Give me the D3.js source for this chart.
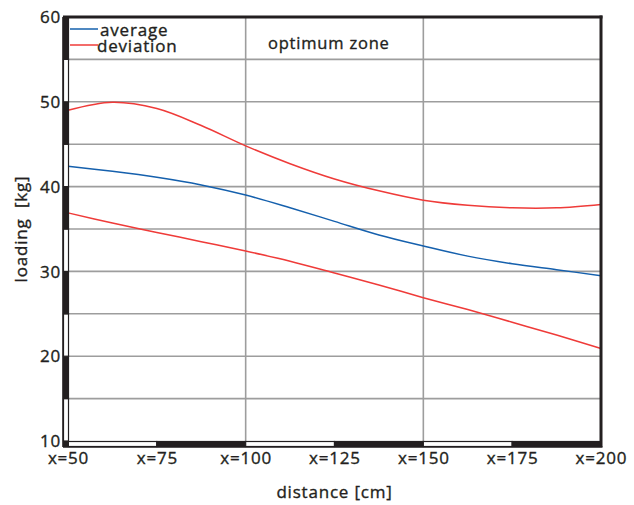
<!DOCTYPE html>
<html>
<head>
<meta charset="utf-8">
<script src="https://cdn.jsdelivr.net/npm/d3@7/dist/d3.min.js"></script>
<style>
  html, body { margin: 0; padding: 0; background: #fff; }
  svg { display: block; font-family: "Open Sans", sans-serif; }
  text { stroke: #231f20; stroke-width: 0.35px; }
</style>
</head>
<body>
<svg id="chart" width="634" height="505"></svg>
<script>
// ---- data ----
const distances = [50, 62.5, 75, 87.5, 100, 112.5, 125, 137.5, 150, 162.5, 175, 187.5, 200];
const average   = [42.4, 41.8, 41.1, 40.2, 39.0, 37.5, 35.9, 34.3, 33.0, 31.8, 30.9, 30.2, 29.5];
const devUpper  = [49.0, 49.95, 49.2, 47.2, 44.8, 42.7, 40.9, 39.5, 38.4, 37.8, 37.5, 37.5, 37.9];
const devLower  = [36.9, 35.7, 34.6, 33.5, 32.4, 31.2, 29.8, 28.4, 26.9, 25.5, 24.0, 22.5, 20.9];
const xTicks = [50, 75, 100, 125, 150, 175, 200];
const xTickLabels = ["x=50", "x=75", "x=100", "x=125", "x=150", "x=175", "x=200"];
const yTicks = [10, 20, 30, 40, 50, 60];
const yGrid = [15, 20, 25, 30, 35, 40, 45, 50, 55];
const xGrid = [100, 150];
const legendLabels = ["average", "deviation"];
const zoneLabel = "optimum zone";
const xTitle = "distance [cm]";
const yTitle = "loading  [kg]";

// ---- layout ----
const svg = d3.select("#chart");
const pL = 68, pR = 601, pT = 17, pB = 441;
const x = d3.scaleLinear().domain([50, 200]).range([pL, pR]);
const y = d3.scaleLinear().domain([10, 60]).range([pB, pT]);
const ink = "#231f20";
const blue = "#1560ad";
const red = "#ef3b39";
const gridC = "#9d9d9d";
const ls = "0.8px";

// grid
svg.append("g").selectAll("line").data(yGrid).join("line")
  .attr("x1", pL).attr("x2", pR)
  .attr("y1", d => y(d)).attr("y2", d => y(d))
  .attr("stroke", gridC).attr("stroke-width", 1.6);
svg.append("g").selectAll("line").data(xGrid).join("line")
  .attr("x1", d => x(d)).attr("x2", d => x(d))
  .attr("y1", pT).attr("y2", pB)
  .attr("stroke", gridC).attr("stroke-width", 1.6);

// lines
const lineGen = vals => d3.line()
  .x((d, i) => x(distances[i]))
  .y(d => y(d))
  .curve(d3.curveCatmullRom.alpha(0.5))(vals);
[[devUpper, red], [devLower, red], [average, blue]].forEach(([vals, c]) => {
  svg.append("path").attr("d", lineGen(vals))
    .attr("fill", "none").attr("stroke", c).attr("stroke-width", 1.5);
});

// frame: top and right
svg.append("line").attr("x1", pL - 5).attr("x2", pR + 1.5)
  .attr("y1", pT).attr("y2", pT).attr("stroke", ink).attr("stroke-width", 3);
svg.append("line").attr("x1", pR).attr("x2", pR)
  .attr("y1", pT - 1.5).attr("y2", pB + 6).attr("stroke", ink).attr("stroke-width", 3);

// left axis bar segments
const ySegs = d3.range(10, 60, 5);
svg.append("g").selectAll("rect").data(ySegs).join("rect")
  .attr("x", pL - 4.5).attr("width", 5)
  .attr("y", d => y(d + 5)).attr("height", d => y(d) - y(d + 5))
  .attr("fill", d => ((d / 5) % 2 === 1) ? ink : "#fff")
  .attr("stroke", ink).attr("stroke-width", 1.2);
// bottom axis bar segments
const xSegs = d3.range(50, 200, 25);
svg.append("g").selectAll("rect").data(xSegs).join("rect")
  .attr("y", pB + 0.5).attr("height", 5)
  .attr("x", d => x(d)).attr("width", d => x(d + 25) - x(d))
  .attr("fill", (d, i) => (i % 2 === 1) ? ink : "#fff")
  .attr("stroke", ink).attr("stroke-width", 1.2);
svg.append("line").attr("x1", pL - 5).attr("x2", pR + 1.5)
  .attr("y1", pB + 6).attr("y2", pB + 6).attr("stroke", ink).attr("stroke-width", 1.6);
svg.append("line").attr("x1", pL - 5).attr("x2", pL - 5)
  .attr("y1", pT).attr("y2", pB + 6).attr("stroke", ink).attr("stroke-width", 1.6);
svg.append("rect").attr("x", pL - 5).attr("y", pB).attr("width", 6).attr("height", 6).attr("fill", ink);

// y axis labels
const yAxis = svg.append("g").attr("transform", `translate(${pL - 6},0)`)
  .call(d3.axisLeft(y).tickValues(yTicks).tickSize(0).tickPadding(1).tickFormat(d3.format("d")));
yAxis.select(".domain").remove();
yAxis.selectAll("text").attr("font-size", 17).attr("fill", ink)
  .attr("font-family", "Open Sans, sans-serif").attr("dy", "0.34em")
  .style("letter-spacing", ls);

// x axis labels
const xAxis = svg.append("g").attr("transform", `translate(0,${pB + 11})`)
  .call(d3.axisBottom(x).tickValues(xTicks).tickSize(0).tickPadding(0)
    .tickFormat((d, i) => xTickLabels[i]));
xAxis.select(".domain").remove();
xAxis.selectAll("text").attr("font-size", 17).attr("fill", ink)
  .attr("font-family", "Open Sans, sans-serif").attr("dy", "0.71em")
  .style("letter-spacing", ls);

// titles
svg.append("text").attr("x", (pL + pR) / 2).attr("y", 491)
  .attr("text-anchor", "middle").attr("dominant-baseline", "central")
  .attr("font-size", 17).attr("fill", ink).style("letter-spacing", ls).text(xTitle);
svg.append("text").attr("transform", `translate(20,${(pT + pB) / 2}) rotate(-90)`)
  .attr("text-anchor", "middle").attr("dominant-baseline", "central")
  .attr("font-size", 17).attr("fill", ink).style("white-space", "pre")
  .style("letter-spacing", ls).text(yTitle);

// legend
const legendColors = [blue, red];
const leg = svg.append("g");
legendLabels.forEach((lab, i) => {
  const ly = 29 + i * 16;
  leg.append("line").attr("x1", 70).attr("x2", 98).attr("y1", ly).attr("y2", ly)
    .attr("stroke", legendColors[i]).attr("stroke-width", 1.5);
  leg.append("text").attr("x", i === 0 ? 100 : 97).attr("y", ly)
    .attr("dominant-baseline", "central").attr("font-size", 17).attr("fill", ink)
    .style("letter-spacing", ls).text(lab);
});

// zone label
svg.append("text").attr("x", 268).attr("y", 42)
  .attr("dominant-baseline", "central").attr("font-size", 16.5).attr("fill", ink)
  .style("letter-spacing", ls).text(zoneLabel);
</script>
</body>
</html>
